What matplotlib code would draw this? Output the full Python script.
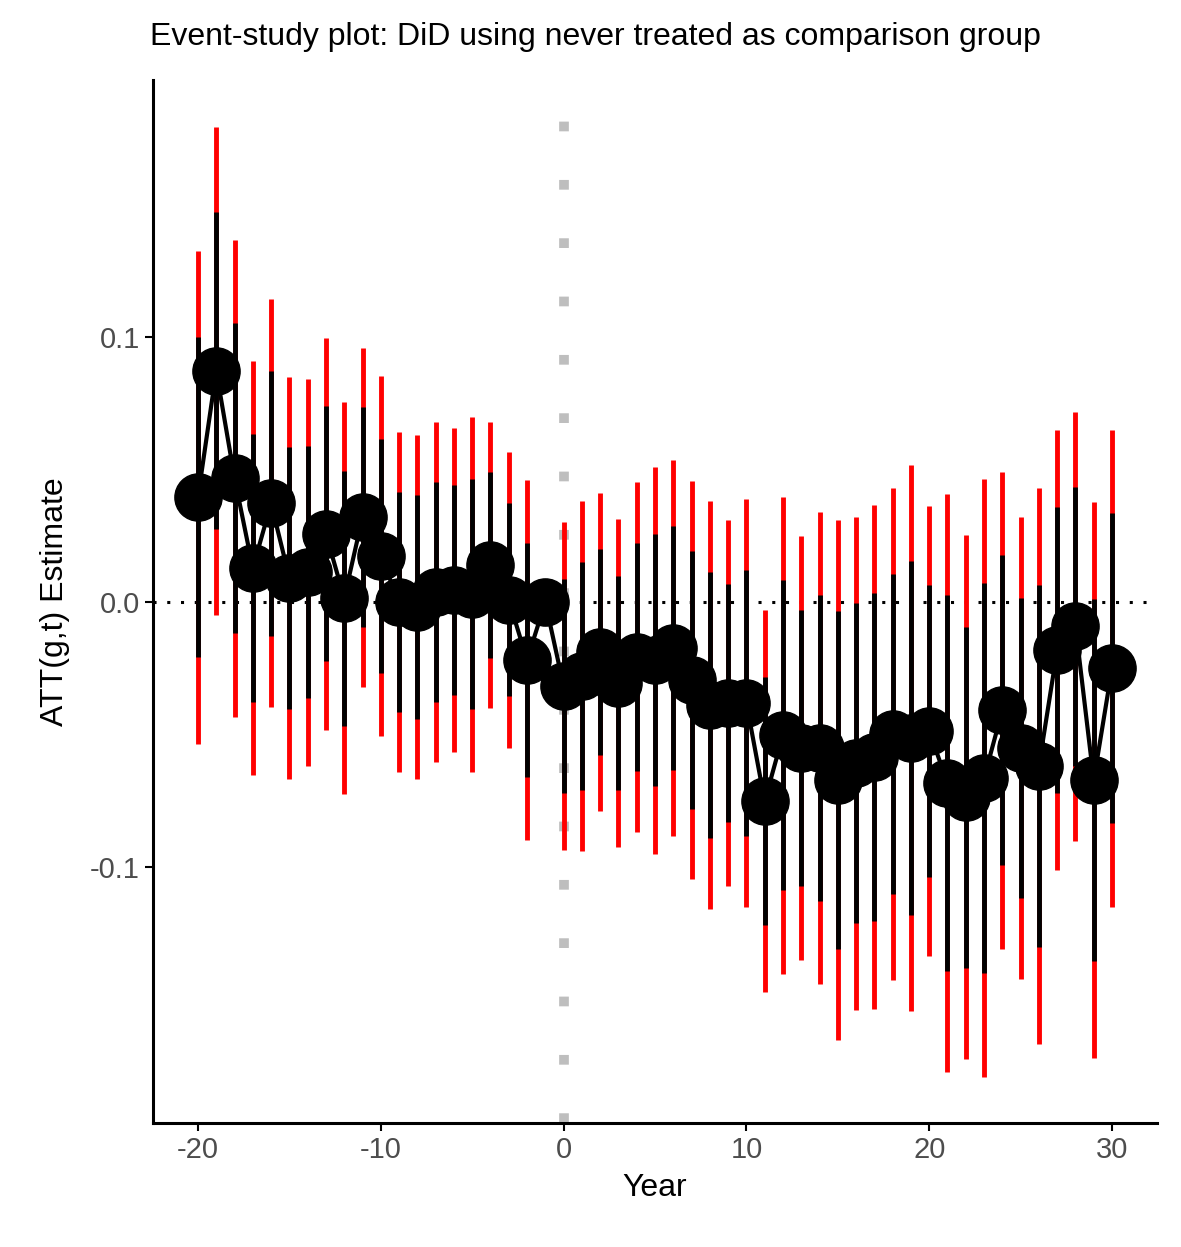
import matplotlib
matplotlib.use("Agg")
import matplotlib.pyplot as plt
import numpy as np

plt.rcParams['font.family'] = ['Liberation Sans', 'DejaVu Sans']
plt.rcParams['axes.unicode_minus'] = False

years = list(range(-20, 31))
# point estimates
att = [0.0396, 0.0872, 0.0468, 0.0128, 0.0372, 0.0091, 0.0113, 0.0257, 0.0015, 0.0320,
       0.0174, 0.0000, -0.0019, 0.0038, 0.0045, 0.0030, 0.0140, 0.0008, -0.0219, 0.0,
       -0.0317, -0.0279, -0.0189, -0.0306, -0.0208, -0.0219, -0.0174, -0.0294, -0.0389, -0.0381,
       -0.0381, -0.0751, -0.0502, -0.0551, -0.0551, -0.0672, -0.0608, -0.0585, -0.0498, -0.0513,
       -0.0487, -0.0683, -0.0736, -0.0664, -0.0408, -0.0551, -0.0619, -0.0181, -0.0091, -0.0672,
       -0.0249]
# half-width of simultaneous (red) band
band = [0.0930, 0.0920, 0.0900, 0.0780, 0.0770, 0.0760, 0.0730, 0.0740, 0.0740, 0.0640,
        0.0680, 0.0640, 0.0650, 0.0640, 0.0610, 0.0670, 0.0540, 0.0560, 0.0680, np.nan,
        0.0620, 0.0660, 0.0600, 0.0620, 0.0660, 0.0730, 0.0710, 0.0750, 0.0770, 0.0690,
        0.0770, 0.0720, 0.0900, 0.0800, 0.0890, 0.0980, 0.0930, 0.0950, 0.0930, 0.1030,
        0.0850, 0.1090, 0.0990, 0.1130, 0.0900, 0.0870, 0.1050, 0.0830, 0.0810, 0.1050,
        0.0900]
pointwise_ratio = 0.65

x = np.array(years)
y = np.array(att)
b = np.array(band)
p = b * pointwise_ratio

fig = plt.figure(figsize=(11.81, 12.47), dpi=100)
ax = fig.add_axes([153/1181, 1 - 1123/1247, (1157-153)/1181, (1123-80)/1247])

ax.axvline(0, color='#bebebe', lw=7, ls=(0, (1.0, 5.0)), zorder=1)
ax.axhline(0, color='black', lw=2.2, ls=(0, (1, 3.5)), zorder=1)

ax.vlines(x, y - b, y + b, color='red', lw=3.5, zorder=2)
ax.vlines(x, y - p, y + p, color='black', lw=3.5, zorder=3)
ax.plot(x, y, color='black', lw=3, zorder=4)
ax.plot(x, y, 'o', color='black', ms=34, zorder=5)

ax.set_xlim(-22.46, 32.46)
ax.set_ylim(-0.1966, 0.197)
ax.set_xticks([-20, -10, 0, 10, 20, 30])
ax.set_yticks([-0.1, 0.0, 0.1])
ax.set_yticklabels(['-0.1', '0.0', '0.1'])
ax.tick_params(labelsize=21, color='black', labelcolor='#4d4d4d', length=6, width=1.5)
for s in ['top', 'right']:
    ax.spines[s].set_visible(False)
for s in ['left', 'bottom']:
    ax.spines[s].set_linewidth(2.2)

ax.set_xlabel('Year', fontsize=23, labelpad=6)
ax.set_ylabel('ATT(g,t) Estimate', fontsize=23, labelpad=14)
fig.text(150/1181, 1 - 37/1247, 'Event-study plot: DiD using never treated as comparison group',
         fontsize=23, va='center', ha='left')

fig.savefig('out.png', dpi=100)
